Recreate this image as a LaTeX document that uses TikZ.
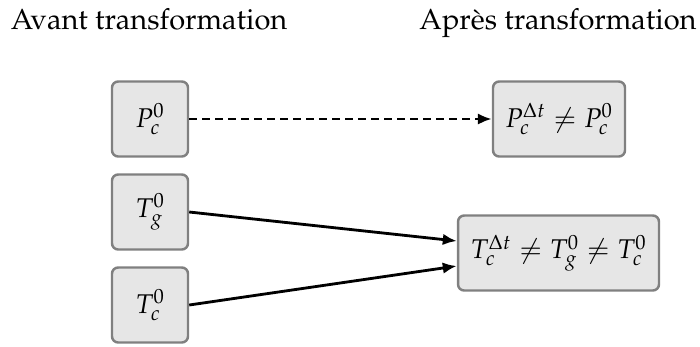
\documentclass[tikz,border=0pt]{standalone}
\usepackage[T1]{fontenc}
\usepackage{xcolor}
\usepackage{amsmath}
\usepackage{mathpazo}
\usepackage{tikz}
\usetikzlibrary{arrows.meta,positioning}
\definecolor{boxfill}{HTML}{E6E6E6}
\definecolor{boxline}{HTML}{808080}
\tikzset{
  state/.style={rectangle, rounded corners=3.5pt, draw=boxline, fill=boxfill, line width=1.4pt,
                align=center, inner sep=3pt, font=\fontsize{15.4}{18}\selectfont, minimum height=15mm},
  title/.style={font=\fontsize{16.5}{20}\selectfont, anchor=base},
  flow/.style={-{Latex[length=2.8mm,width=2.3mm]}, draw=black, line width=1.6pt},
  keep/.style={flow, dash pattern=on 1.6mm off 1mm}
}
\begin{document}
\begin{tikzpicture}[x=0.02cm, y=-0.02cm]
\useasboundingbox (0,0) rectangle (700,346);

% --- titles
\node[title] (before) at (149,29) {Avant transformation};
\node[title] (after) at (558,29) {Apr\`es transformation};

% --- before
\node[state, minimum width=15.2mm] (p0) at (150,119) {$P_c^0$};
\node[state, minimum width=15.2mm] (tg) at (150,212) {$T_g^0$};
\node[state, minimum width=15.2mm] (tc) at (150,305) {$T_c^0$};

% --- after
\node[state, minimum width=26.4mm] (pdt) at (559,119) {$P_c^{\Delta t} \neq P_c^0$};
\node[state, minimum width=40.2mm] (tdt) at (558.5,253) {$T_c^{\Delta t} \neq T_g^0 \neq T_c^0$};

\draw[keep] (p0)--(pdt);
\draw[flow] (tg.east)--([yshift=2.4mm]tdt.west);
\draw[flow] (tc.east)--([yshift=-2.6mm]tdt.west);
\end{tikzpicture}
\end{document}
